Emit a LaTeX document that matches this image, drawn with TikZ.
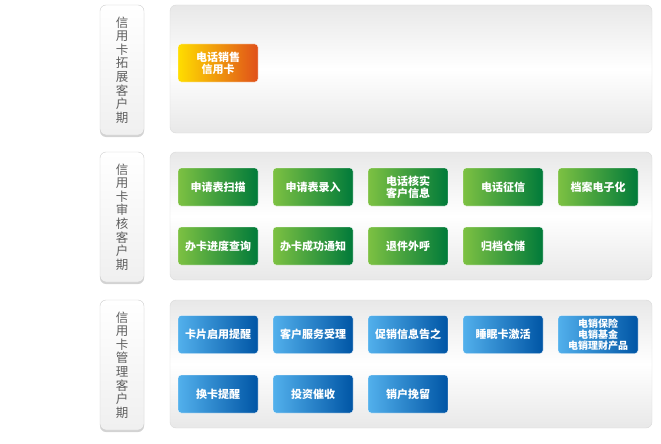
\documentclass[tikz,border=0pt]{standalone}
\usepackage{fontspec}
\setmainfont{Noto Sans CJK SC}
\usetikzlibrary{shadows}
\definecolor{CardYellow}{HTML}{FFDD00}
\definecolor{CardOrange}{HTML}{E0501A}
\definecolor{CardLGreen}{HTML}{7DC142}
\definecolor{CardDGreen}{HTML}{007A3A}
\definecolor{CardLBlue}{HTML}{52B0EC}
\definecolor{CardDBlue}{HTML}{0055A5}
\definecolor{PanelGray}{HTML}{E8E8E8}
\definecolor{LabelText}{HTML}{5F5F5F}

\begin{document}
\begin{tikzpicture}[x=1pt, y=-1pt,
  panel/.style={
    draw=gray!30, rounded corners=6pt,
    top color=PanelGray, bottom color=PanelGray, middle color=white,
    minimum width=482pt, minimum height=128pt, inner sep=0pt
  },
  phase/.style={
    draw=gray!40, rounded corners=6pt,
    top color=white, bottom color=gray!12,
    drop shadow={shadow xshift=0pt, shadow yshift=-2pt, opacity=0.35},
    minimum width=44pt, minimum height=130pt, inner sep=0pt,
    align=center, font=\fontsize{12.5}{13.6}\selectfont, text=LabelText
  },
  card/.style={
    rounded corners=3pt, draw=white, line width=0.4pt,
    minimum width=80pt, minimum height=38pt, inner sep=1pt,
    align=center, font=\bfseries\fontsize{11}{12}\selectfont, text=white
  },
  sale/.style={card, left color=CardYellow, right color=CardOrange},
  audit/.style={card, left color=CardLGreen, right color=CardDGreen},
  manage/.style={card, left color=CardLBlue, right color=CardDBlue}
]
  \useasboundingbox (0,0) rectangle (661,444);

  % expansion phase
  \node[phase] (p1) at (122,70) {信\\用\\卡\\拓\\展\\客\\户\\期};
  \node[panel] (b1) at (411,69) {};
  \node[sale] (s1) at (218,63) {电话销售\\信用卡};

  % review phase
  \node[phase] (p2) at (122,217) {信\\用\\卡\\审\\核\\客\\户\\期};
  \node[panel] (b2) at (411,216) {};
  \node[audit] (a1) at (218,187) {申请表扫描};
  \node[audit] (a2) at (313,187) {申请表录入};
  \node[audit] (a3) at (408,187) {电话核实\\客户信息};
  \node[audit] (a4) at (503,187) {电话征信};
  \node[audit] (a5) at (598,187) {档案电子化};
  \node[audit] (a6) at (218,246) {办卡进度查询};
  \node[audit] (a7) at (313,246) {办卡成功通知};
  \node[audit] (a8) at (408,246) {退件外呼};
  \node[audit] (a9) at (503,246) {归档仓储};

  % management phase
  \node[phase] (p3) at (122,365) {信\\用\\卡\\管\\理\\客\\户\\期};
  \node[panel] (b3) at (411,364) {};
  \node[manage] (m1) at (218,334.5) {卡片启用提醒};
  \node[manage] (m2) at (313,334.5) {客户服务受理};
  \node[manage] (m3) at (408,334.5) {促销信息告之};
  \node[manage] (m4) at (503,334.5) {睡眠卡激活};
  \node[manage, font=\bfseries\fontsize{10}{11}\selectfont] (m5) at (598,334.5) {电销保险\\电销基金\\电销理财产品};
  \node[manage] (m6) at (218,394) {换卡提醒};
  \node[manage] (m7) at (313,394) {投资催收};
  \node[manage] (m8) at (408,394) {销户挽留};
\end{tikzpicture}
\end{document}
